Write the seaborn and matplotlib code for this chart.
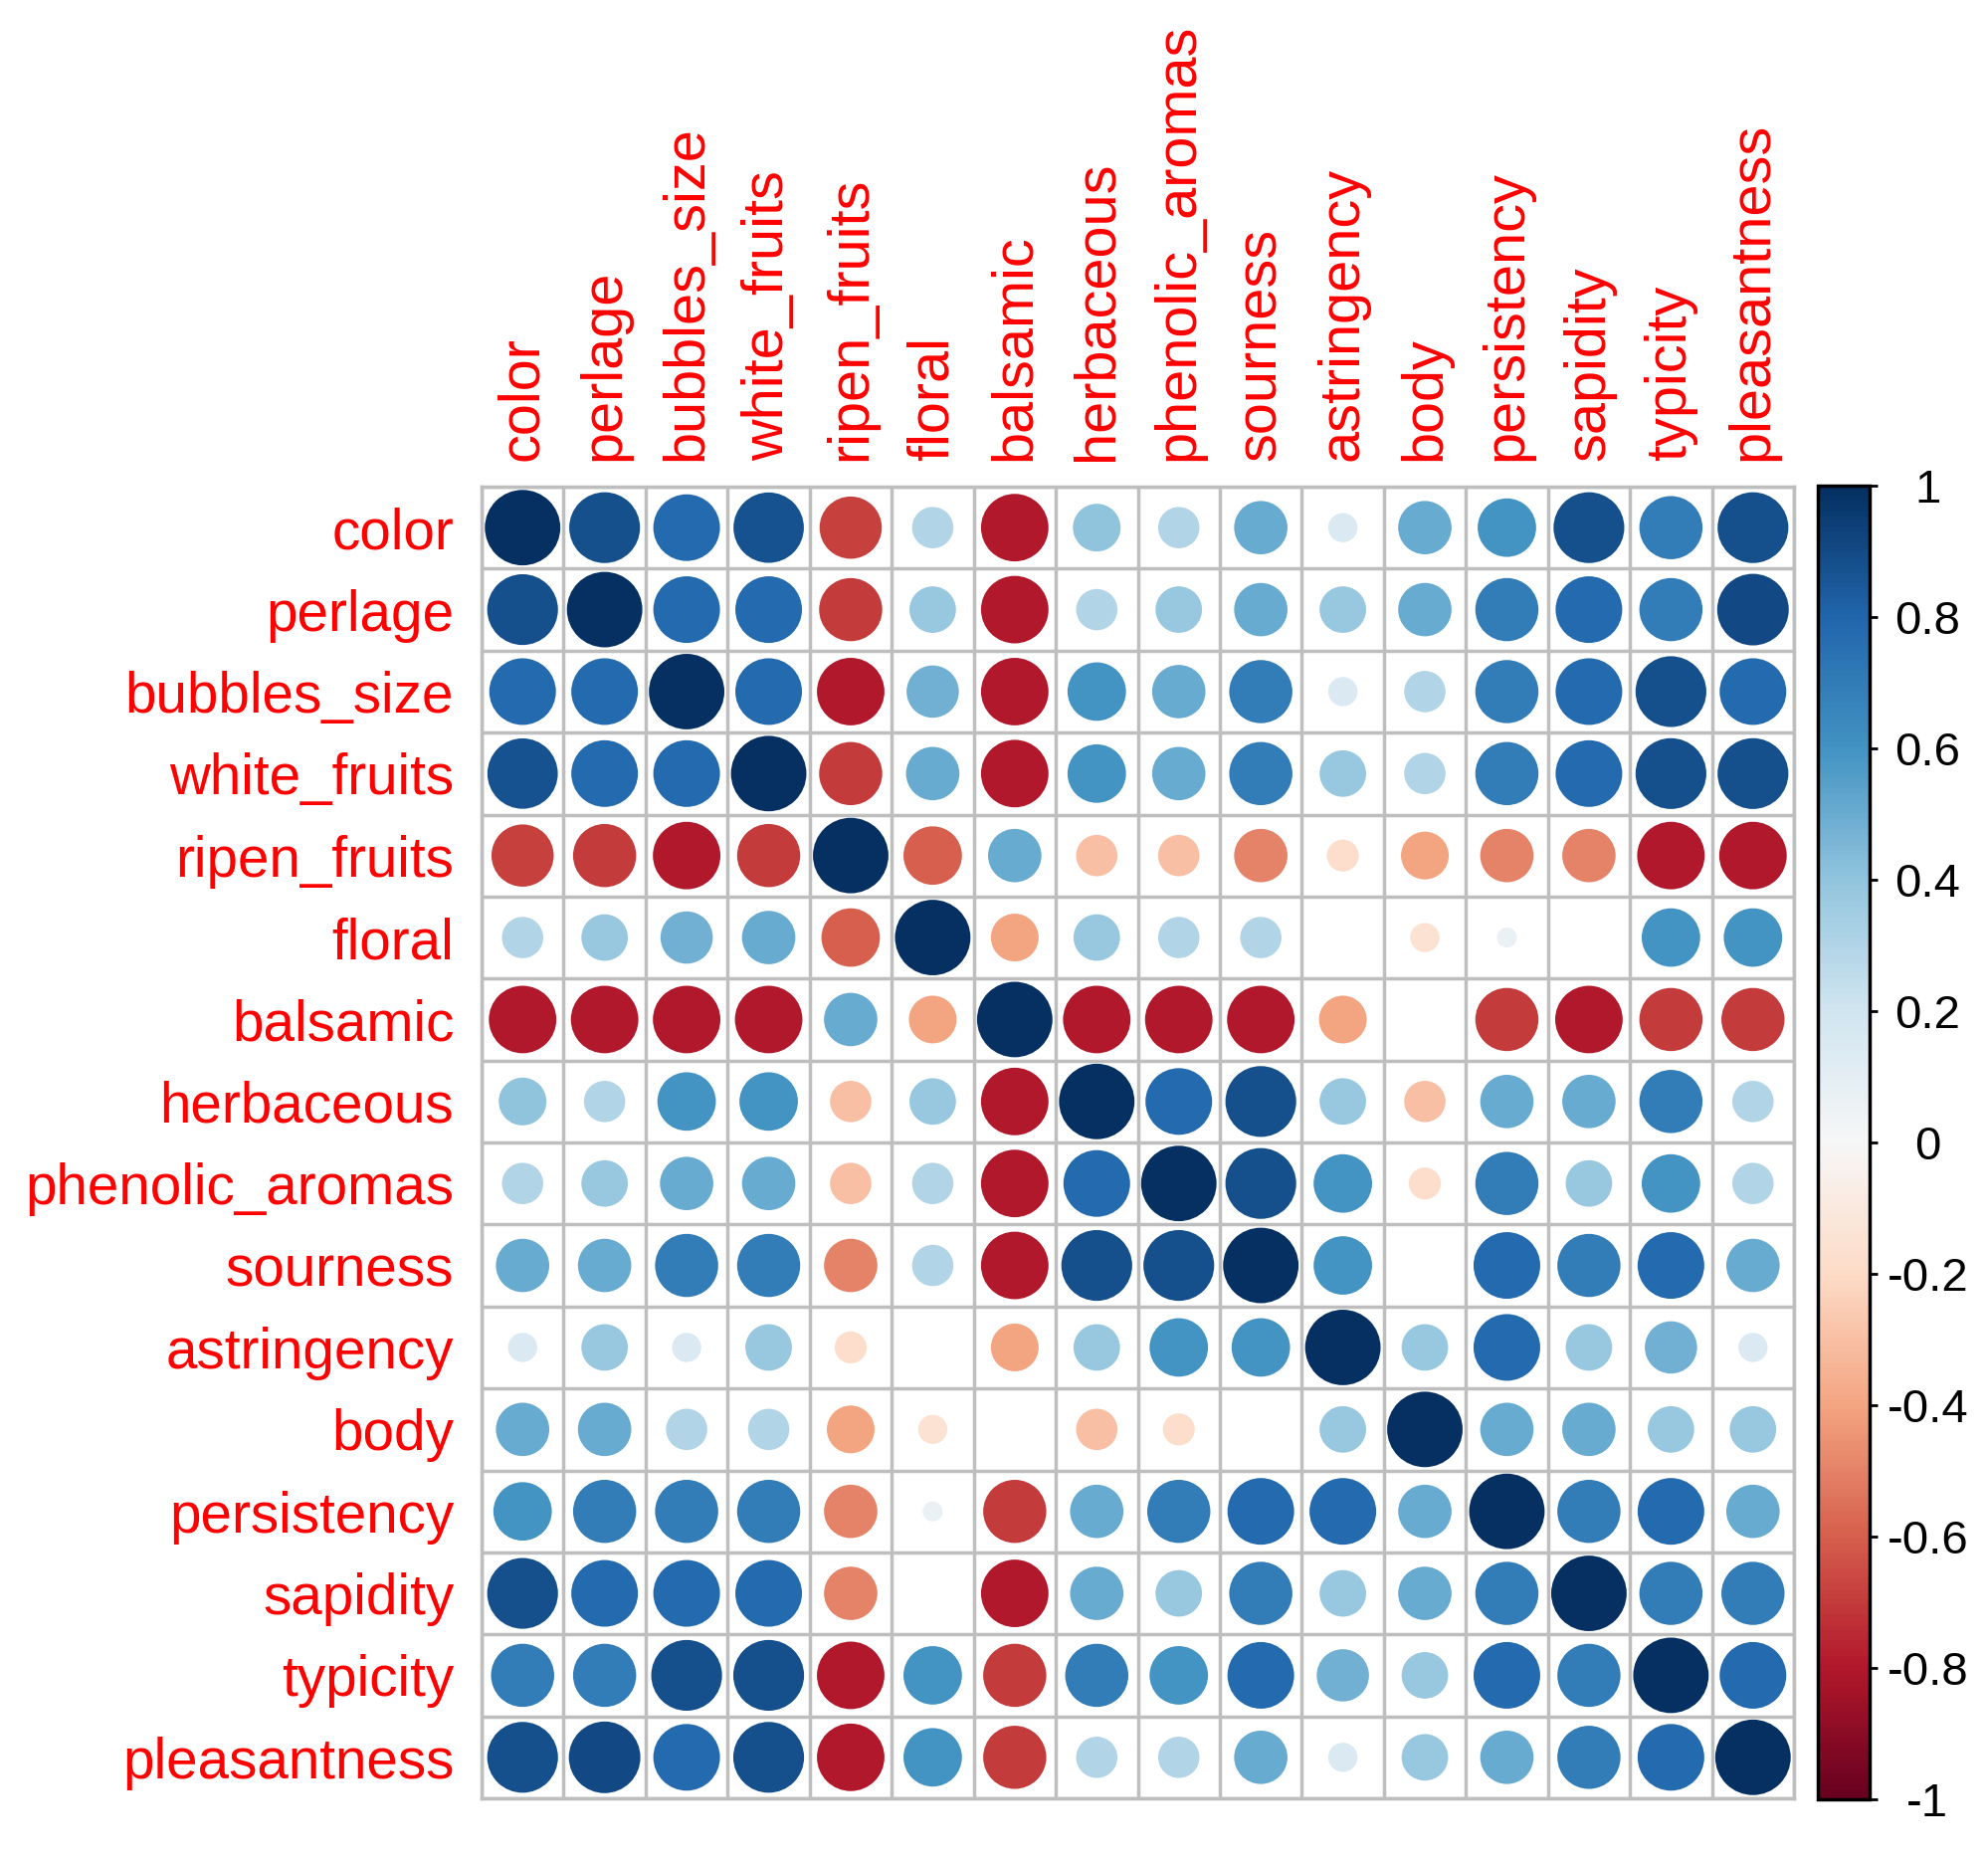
import numpy as np
import pandas as pd
import matplotlib
matplotlib.use("Agg")
import matplotlib.pyplot as plt
import seaborn as sns

sns.set_style("white")
plt.rcParams['font.family'] = ['Liberation Sans', 'DejaVu Sans']

variables = ['color', 'perlage', 'bubbles_size', 'white_fruits', 'ripen_fruits',
             'floral', 'balsamic', 'herbaceous', 'phenolic_aromas', 'sourness',
             'astringency', 'body', 'persistency', 'sapidity', 'typicity',
             'pleasantness']

# upper triangle of the correlation matrix, row by row (values right of the diagonal)
r_color = [0.88, 0.78, 0.87, -0.68, 0.30, -0.80, 0.40, 0.30, 0.50, 0.15, 0.50, 0.60, 0.88, 0.70, 0.88]
r_perlage = [0.78, 0.78, -0.70, 0.38, -0.80, 0.30, 0.38, 0.50, 0.38, 0.50, 0.70, 0.78, 0.70, 0.90]
r_bubbles_size = [0.78, -0.80, 0.48, -0.80, 0.60, 0.50, 0.70, 0.15, 0.30, 0.70, 0.78, 0.88, 0.78]
r_white_fruits = [-0.70, 0.50, -0.80, 0.60, 0.50, 0.70, 0.38, 0.30, 0.70, 0.78, 0.88, 0.88]
r_ripen_fruits = [-0.60, 0.50, -0.30, -0.30, -0.50, -0.18, -0.40, -0.50, -0.50, -0.80, -0.80]
r_floral = [-0.40, 0.38, 0.30, 0.30, 0.00, -0.15, 0.07, 0.00, 0.60, 0.60]
r_balsamic = [-0.80, -0.80, -0.80, -0.40, 0.00, -0.70, -0.80, -0.70, -0.70]
r_herbaceous = [0.78, 0.88, 0.38, -0.30, 0.50, 0.50, 0.70, 0.30]
r_phenolic_aromas = [0.88, 0.60, -0.18, 0.70, 0.38, 0.60, 0.30]
r_sourness = [0.60, 0.00, 0.78, 0.70, 0.78, 0.50]
r_astringency = [0.38, 0.78, 0.38, 0.48, 0.15]
r_body = [0.50, 0.50, 0.38, 0.38]
r_persistency = [0.70, 0.78, 0.50]
r_sapidity = [0.70, 0.70]
r_typicity = [0.78]

upper_rows = [r_color, r_perlage, r_bubbles_size, r_white_fruits, r_ripen_fruits,
              r_floral, r_balsamic, r_herbaceous, r_phenolic_aromas, r_sourness,
              r_astringency, r_body, r_persistency, r_sapidity, r_typicity]

cbar_ticks = [-1, -0.8, -0.6, -0.4, -0.2, 0, 0.2, 0.4, 0.6, 0.8, 1]
cbar_labels = ['-1', '-0.8', '-0.6', '-0.4', '-0.2', '0', '0.2', '0.4', '0.6', '0.8', '1']

n = len(variables)
corr = np.eye(n)
for i, vals in enumerate(upper_rows):
    for k, v in enumerate(vals):
        j = i + 1 + k
        corr[i, j] = v
        corr[j, i] = v

rows, cols = np.meshgrid(np.arange(n), np.arange(n), indexing='ij')
df = pd.DataFrame({'row': rows.ravel(), 'col': cols.ravel(), 'r': corr.ravel()})
df['absr'] = df['r'].abs()

W, H = 1998, 1872
fig = plt.figure(figsize=(W / 100, H / 100), dpi=100)
gx0, gx1, gy0, gy1 = 484, 1803, 489, 1807
ax = fig.add_axes([gx0 / W, 1 - gy1 / H, (gx1 - gx0) / W, (gy1 - gy0) / H])

# circle area proportional to |r|, diagonal circles fill ~92% of a cell
cell_pt = (gx1 - gx0) / n * 72 / 100
max_area = (0.92 * cell_pt) ** 2

sns.scatterplot(data=df, x='col', y='row', hue='r', size='absr',
                palette='RdBu', hue_norm=(-1, 1), sizes=(0, max_area),
                size_norm=(0, 1), marker='o', linewidth=0, legend=False, ax=ax)

ax.set_xlim(-0.5, n - 0.5)
ax.set_ylim(n - 0.5, -0.5)
ax.set_xticks(np.arange(n))
ax.set_yticks(np.arange(n))
ax.set_xticks(np.arange(n + 1) - 0.5, minor=True)
ax.set_yticks(np.arange(n + 1) - 0.5, minor=True)
ax.grid(which='minor', color='#bebebe', linewidth=2.5)
ax.grid(which='major', visible=False)
ax.set_axisbelow(True)
for sp in ax.spines.values():
    sp.set_color('#bebebe')
    sp.set_linewidth(2.5)
ax.xaxis.tick_top()
ax.set_xticklabels(variables, rotation=90, color='red', fontsize=41.5)
ax.set_yticklabels(variables, color='red', fontsize=40.8)
ax.tick_params(axis='x', which='both', length=0, pad=19)
ax.tick_params(axis='y', which='both', length=0, pad=20)
ax.set_xlabel('')
ax.set_ylabel('')

# colorbar
cax = fig.add_axes([1827 / W, 1 - 1808 / H, 52 / W, 1320 / H])
sm = plt.cm.ScalarMappable(cmap='RdBu', norm=plt.Normalize(-1, 1))
cb = fig.colorbar(sm, cax=cax, ticks=cbar_ticks)
cb.ax.set_yticklabels(cbar_labels, fontsize=34, ha='center', color='black')
cb.ax.tick_params(length=6, width=2, pad=36, color='black')
cb.outline.set_linewidth(2.5)
cb.outline.set_edgecolor('black')

fig.savefig('out.png', dpi=100)
